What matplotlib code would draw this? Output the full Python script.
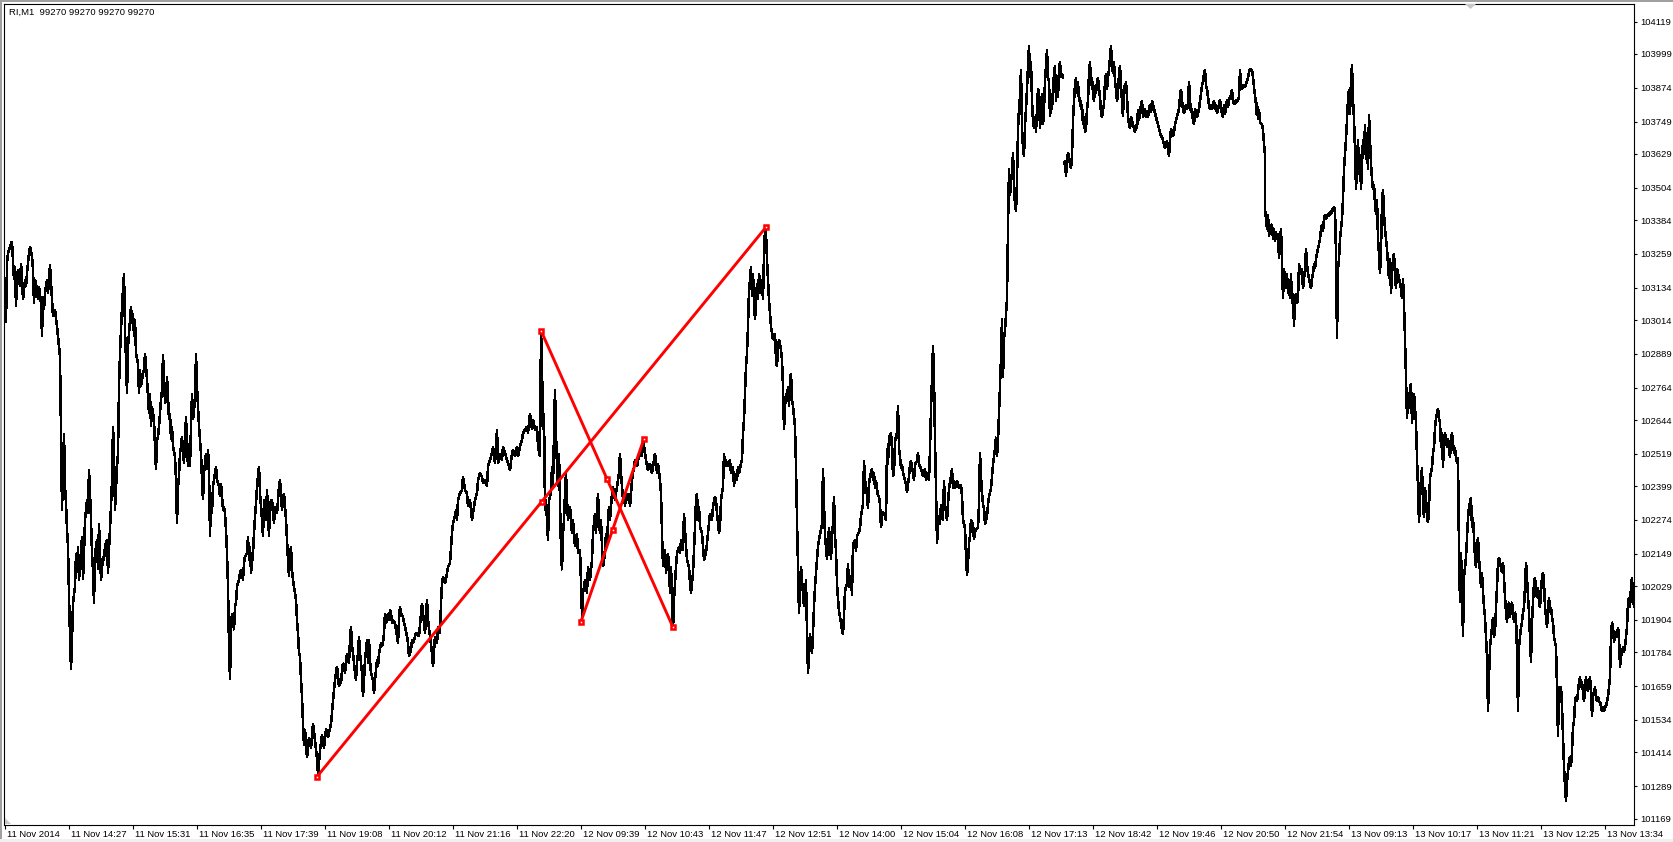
import numpy as np
import matplotlib
matplotlib.use("Agg")
import matplotlib.pyplot as plt
from matplotlib.patches import Polygon, Rectangle
import matplotlib.transforms as mtransforms

plt.rcParams['font.family'] = ['Liberation Sans', 'DejaVu Sans']

# ---------------- data: RI M1, (bar index, price) ----------------
seg_a = [(0,103015),(1,103005),(2,103225),(3,103262),(5,103286),(7,103305),(8,103237),(9,103163),(10,103212),(11,103064),(12,103175),(13,103200),(15,103138),(16,103225),(17,103175),(18,103089),(20,103163),(21,103138),(22,103188),(24,103262),(25,103286),(27,103249),(28,103200),(29,103077),(30,103163),(32,103126),(33,103089),(34,103138),(36,103077),(37,102953),(38,103101),(39,103052),(40,103114),(42,103163),(43,103114),(45,103218),(47,103089),(48,103027),(50,103052),(52,102990),(53,102953),(54,102916),(55,102879),(56,102595),(57,102311),(58,102460),(59,102595),(60,102398),(61,102336),(62,102237),(63,102176),(64,101991),(65,101843),(66,101719),(67,101830),(68,101966),(70,102028),(71,102151),(72,102089),(73,102176),(74,102052),(76,102151),(77,102213),(78,102052),(79,102151),(80,102274),(82,102349),(83,102299),(84,102460),(85,102373),(86,102274),(87,102151),(88,102089),(89,101966),(90,102151),(92,102200),(93,102089),(94,102262),(95,102151),(96,102052),(98,102139),(99,102126),(100,102176),(102,102200),(103,102077),(104,102163),(106,102324),(107,102423),(108,102620),(109,102521),(110,102311),(112,102472),(113,102521),(114,102768),(115,102891),(116,102978),(117,103064),(119,103188),(120,102978),(121,102867),(122,102743),(123,102916),(125,103015),(126,103064),(127,103002),(128,103040),(129,102953),(130,103015),(131,102891),(133,102854),(134,102743),(135,102830),(136,102768),(138,102817),(139,102830),(140,102891),(142,102793),(143,102731),(144,102669),(145,102743),(146,102620),(147,102694),(149,102645),(150,102546),(151,102460),(152,102571),(153,102583),(154,102620),(156,102719),(157,102756),(158,102885),(159,102805),(160,102706),(161,102719),(162,102805),(163,102731),(164,102645),(165,102669),(166,102571),(167,102620),(168,102546),(170,102509),(171,102423),(172,102262),(173,102398),(174,102435),(175,102521),(176,102546),(177,102583),(178,102521),(179,102484),(181,102657),(182,102546),(183,102472),(184,102558),(185,102472),(186,102620),(187,102743),(188,102645),(190,102719),(191,102891),(192,102768),(193,102694),(194,102620),(195,102571),(196,102521),(197,102423),(198,102349),(199,102447),(201,102521),(202,102460),(203,102534),(204,102460),(205,102213),(206,102373),(207,102299),(208,102398),(210,102447),(211,102472),(212,102423),(214,102398),(215,102361),(216,102410),(218,102311),(219,102324),(220,102299),(221,102237),(222,102151),(223,102028),(224,101806),(225,101682),(226,101880),(227,101929),(228,101904),(229,101867),(230,101954),(231,101966),(232,102028),(234,102052),(235,102077),(236,102089),(238,102052),(239,102114),(240,102139),(242,102151),(243,102213),(244,102126),(245,102176),(246,102077),(248,102151),(249,102225),(250,102287),(251,102336),(252,102398),(253,102435),(254,102472),(255,102373),(256,102324),(257,102274),(258,102213),(259,102349),(261,102274),(262,102386),(263,102299),(264,102213),(265,102336),(267,102349),(268,102299),(269,102262),(270,102324),(272,102299),(273,102349),(274,102398),(275,102423),(277,102311),(278,102349),(279,102373),(280,102324),(281,102274),(282,102200),(283,102126),(284,102065),(285,102151),(286,102176),(287,102089),(288,102052),(290,102003),(291,101978),(292,101904),(293,101855),(294,101781),(295,101768),(296,101682),(297,101620),(298,101520),(299,101440),(300,101500),(302,101395),(304,101470),(306,101430),(308,101520),(310,101460),(312,101390),(313,101332),(315,101420),(317,101480),(319,101430),(321,101500),(323,101470),(326,101520),(329,101645),(330,101682),(331,101707),(332,101732),(334,101657),(335,101682),(336,101670),(337,101719),(338,101744),(339,101732),(340,101707),(342,101781),(344,101744),(345,101830),(346,101880),(347,101806),(348,101781),(350,101707),(351,101682),(352,101744),(353,101781),(354,101843),(355,101781),(357,101707),(358,101620),(359,101682),(360,101756),(362,101830),(363,101744),(364,101830),(365,101756),(366,101707),(368,101682),(369,101633),(370,101682),(371,101719),(372,101756),(373,101732),(374,101781),(376,101818),(377,101806),(378,101818),(379,101855),(380,101929),(381,101892),(382,101904),(383,101929),(384,101904),(385,101941),(386,101929),(387,101892),(388,101904),(390,101892),(391,101867),(392,101843),(393,101818),(394,101904),(395,101954),(396,101929),(398,101916),(399,101892),(400,101880),(402,101843),(403,101818),(404,101768),(406,101793),(407,101830),(408,101818),(410,101843),(411,101855),(412,101855),(414,101843)]

seg_b = [(417,101966),(418,101929),(420,101855),(422,101978),(423,101904),(425,101843),(427,101781),(428,101731),(430,101843),(432,101818),(433,101880),(435,101855),(436,101966),(437,102040),(438,102065),(440,102040),(442,102077),(443,102101),(445,102114),(447,102225),(448,102262),(449,102274),(451,102311),(452,102274),(453,102348),(455,102373),(457,102385),(458,102435),(460,102385),(462,102373),(463,102324),(465,102348),(467,102274),(468,102299),(470,102348),(472,102373),(473,102422),(475,102447),(477,102435),(478,102410),(480,102422),(482,102398),(483,102472),(485,102496),(487,102521),(488,102546),(490,102484),(492,102608),(493,102484),(495,102521),(497,102496),(498,102546),(500,102521),(502,102496),(503,102484),(505,102459),(507,102521),(508,102534),(510,102509),(512,102546),(513,102509),(515,102546),(517,102571),(518,102595),(520,102608),(522,102620),(523,102595),(525,102669),(527,102608),(528,102645),(530,102608),(532,102620),(533,102546),(535,102509),(536,102978),(537,102842),(538,102608),(539,102669),(540,102311),(541,102348),(542,102274),(543,102200),(544,102348),(546,102373),(547,102472),(548,102398),(549,102595),(550,102756),(551,102595),(552,102472),(553,102398),(554,102521),(555,102348),(556,102163),(557,102089),(558,102225),(559,102274),(560,102373),(561,102447),(562,102348),(563,102274),(565,102324),(567,102225),(568,102274),(570,102176),(572,102225),(573,102151),(575,102163),(576,102040),(577,101917),(578,102003),(579,102028),(580,102052),(582,102003),(583,102101),(585,102052),(587,102126),(588,102225),(590,102299),(591,102225),(592,102311),(593,102373),(594,102274),(595,102225),(596,102274),(597,102176),(598,102101),(600,102151),(601,102225),(602,102176),(603,102274),(604,102324),(605,102274),(606,102324),(607,102373),(608,102398),(610,102348),(611,102373),(612,102398),(614,102447),(615,102521),(616,102447),(618,102348),(619,102373),(620,102324),(621,102373),(622,102348),(624,102373),(625,102324),(626,102373),(627,102422),(628,102447),(630,102496),(632,102472),(633,102496),(635,102521),(637,102509),(638,102571),(640,102521),(642,102472),(643,102459),(645,102484),(647,102447),(648,102472),(650,102521),(652,102447),(653,102484),(655,102422),(656,102373),(657,102225),(658,102101),(659,102126),(660,102163),(661,102077),(662,102126),(663,102151),(664,102101),(665,102003),(666,102101),(667,102003),(668,101867),(669,101978),(670,102040),(671,102101),(672,102151),(674,102176),(675,102151),(676,102200),(678,102163),(679,102299),(680,102237),(681,102176),(682,102126),(684,102101),(685,102040),(686,102003),(688,102077),(689,102163),(690,102250),(691,102348),(692,102373),(693,102274),(694,102324),(695,102250),(697,102225),(698,102176),(699,102126),(701,102151),(702,102188),(703,102225),(705,102299),(707,102274),(708,102324),(710,102361),(711,102348),(712,102299),(714,102225),(715,102250),(716,102348),(718,102398),(719,102521),(720,102472),(721,102496),(722,102472),(724,102484),(725,102496),(726,102447),(728,102472),(729,102398),(730,102447),(732,102422),(733,102472),(734,102447),(736,102484),(737,102496),(738,102595),(739,102645),(740,102743),(741,102842),(742,102891),(743,102990),(744,103126),(745,103163),(746,103212),(747,103101),(748,103188),(749,103089),(750,103015),(751,103077),(752,103151),(753,103089),(754,103188),(756,103113),(757,103163),(758,103089),(759,103262),(760,103348),(761,103336),(762,103237),(763,103163),(764,103089),(765,103039),(766,102990),(767,102965),(768,102941),(770,102965),(771,102867),(772,102842),(773,102916),(774,102941),(776,102904),(777,102867),(778,102768),(779,102608),(780,102694),(781,102743),(782,102719),(783,102768),(784,102694),(785,102793),(786,102817),(787,102719),(788,102694),(790,102620),(791,102472),(792,102274),(793,102101),(794,101929),(795,102028),(796,102101),(797,102052),(798,102003),(799,101954),(800,102003),(801,102052),(802,101855),(803,101707),(804,101781),(805,101855),(806,101806),(807,101781),(808,101855),(809,101954),(810,102028),(812,102126),(813,102176),(814,102200)]

seg_c = [(817,102259),(818,102464),(819,102332),(820,102215),(822,102128),(823,102186),(824,102245),(826,102128),(827,102215),(828,102259),(829,102362),(830,102215),(831,102157),(832,102040),(833,101981),(834,101937),(836,101894),(837,101864),(838,101850),(839,101923),(840,102011),(842,102040),(843,102113),(844,102025),(846,102069),(847,101996),(848,102186),(850,102201),(851,102157),(852,102215),(854,102230),(855,102245),(856,102289),(858,102332),(859,102493),(860,102420),(861,102405),(862,102362),(863,102318),(864,102405),(865,102435),(867,102464),(868,102420),(869,102449),(870,102391),(871,102420),(873,102362),(874,102362),(875,102332),(876,102245),(877,102289),(878,102303),(880,102289),(881,102274),(882,102537),(883,102479),(884,102581),(886,102596),(887,102537),(888,102435),(889,102449),(890,102567),(892,102596),(893,102698),(894,102537),(895,102508),(896,102464),(897,102479),(898,102449),(900,102420),(901,102405),(902,102376),(904,102435),(905,102479),(906,102493),(908,102449),(909,102420),(910,102479),(912,102493),(913,102523),(914,102479),(916,102464),(917,102449),(918,102435),(920,102464),(921,102420),(922,102449),(924,102420),(925,102537),(926,102684),(928,102918),(929,102801),(930,102567),(931,102391),(932,102186),(933,102259),(934,102289),(935,102259),(936,102332),(938,102274),(939,102420),(940,102332),(942,102274),(943,102332),(944,102391),(946,102435),(947,102464),(948,102391),(949,102420),(950,102391),(952,102420),(953,102405),(954,102391),(956,102405),(957,102362),(958,102274),(960,102245),(961,102142),(962,102069),(963,102113),(964,102186),(965,102215),(966,102274),(968,102259),(969,102201),(970,102230),(972,102245),(973,102245),(974,102332),(975,102523),(976,102435),(977,102376),(978,102332),(979,102318),(980,102259),(982,102289),(983,102332),(984,102362),(986,102391),(987,102435),(988,102479),(990,102537),(991,102581),(992,102508),(993,102567),(994,102669),(995,102771),(996,102874),(997,103020),(998,102801),(999,102947),(1000,102976),(1001,103035),(1002,103093),(1003,103357),(1004,103576),(1005,103474),(1006,103532),(1007,103561),(1008,103635),(1009,103503),(1010,103444),(1011,103415),(1012,103532),(1013,103722),(1014,103795),(1015,103839),(1016,103942),(1017,103722),(1018,103649),(1019,103620),(1020,103737),(1021,103795),(1022,103869),(1023,103956),(1024,104030),(1025,103912),(1026,103971),(1027,103825),(1028,103752),(1029,103722),(1030,103766),(1031,103708),(1032,103795),(1033,103869),(1034,103854),(1035,103722),(1036,103795),(1037,103854),(1038,103737),(1039,103795),(1040,103898),(1041,103956),(1042,104015),(1043,103912),(1044,103898),(1045,103766),(1046,103825),(1047,103795),(1048,103869),(1049,103927),(1050,103956),(1051,103825),(1052,103912),(1053,103839),(1054,103942),(1055,103971),(1056,103912),(1057,103927),(1058,103912)]

seg_c2 = [(1059,103591),(1060,103605),(1061,103547),(1062,103605),(1063,103635),(1064,103620),(1065,103591),(1066,103576),(1067,103620),(1068,103752),(1069,103825),(1070,103883),(1071,103912),(1072,103854),(1073,103898),(1074,103825),(1075,103839),(1076,103795),(1077,103810),(1078,103737),(1079,103766),(1080,103708),(1081,103722),(1082,103795),(1083,103825),(1084,103927),(1085,103971),(1086,103883),(1087,103912),(1088,103854),(1089,103825),(1090,103883),(1091,103854),(1092,103898),(1093,103912),(1094,103869),(1095,103839),(1096,103781),(1097,103766),(1098,103795),(1099,103810),(1100,103898),(1101,103927),(1102,103869),(1103,103912),(1104,103942),(1105,103986),(1106,104030),(1107,103956),(1108,103927),(1109,103971),(1110,103898),(1111,103869),(1112,103825),(1113,103854),(1114,103927),(1115,103956),(1116,103883),(1117,103825),(1118,103766),(1119,103883),(1120,103869),(1121,103898),(1122,103839),(1123,103766),(1124,103737),(1125,103722),(1126,103766),(1127,103752),(1128,103737),(1129,103722),(1130,103708),(1131,103737),(1132,103722),(1133,103795),(1134,103752),(1135,103781),(1136,103810),(1137,103825),(1138,103766),(1139,103781),(1140,103795),(1141,103766),(1142,103781),(1143,103766),(1144,103795),(1145,103810),(1146,103781),(1147,103825),(1148,103810),(1149,103795),(1150,103781),(1151,103766),(1152,103752),(1153,103737),(1154,103722),(1155,103708),(1156,103693),(1157,103693),(1158,103678),(1159,103664),(1160,103649),(1161,103664),(1162,103678),(1163,103649),(1164,103620),(1165,103678),(1166,103722),(1167,103708),(1168,103693),(1169,103708),(1170,103737),(1171,103752),(1172,103766),(1173,103781),(1174,103795),(1175,103839),(1176,103869),(1177,103825),(1178,103795),(1179,103781),(1180,103795),(1181,103810),(1182,103795),(1183,103810),(1184,103898),(1185,103825),(1186,103781),(1187,103795),(1188,103752),(1189,103737),(1190,103795),(1191,103781),(1192,103766),(1193,103781),(1194,103795),(1195,103825),(1196,103854),(1197,103883),(1198,103898),(1199,103927),(1200,103942),(1201,103883),(1202,103869),(1203,103839),(1204,103810),(1205,103795),(1206,103810),(1207,103795),(1208,103810),(1209,103825),(1210,103795),(1211,103810),(1212,103781),(1213,103795),(1214,103810)]

seg_d = [(1215,103830),(1216,103793),(1218,103766),(1219,103812),(1220,103775),(1222,103830),(1223,103802),(1224,103830),(1226,103848),(1227,103867),(1228,103821),(1230,103812),(1231,103830),(1232,103821),(1234,103839),(1235,103940),(1236,103885),(1237,103867),(1238,103885),(1240,103876),(1241,103885),(1243,103913),(1244,103931),(1245,103944),(1247,103940),(1248,103913),(1249,103876),(1251,103812),(1251,103775),(1252,103821),(1253,103756),(1254,103793),(1255,103747),(1257,103738),(1258,103719),(1259,103664),(1260,103627),(1260,103425),(1261,103388),(1262,103351),(1263,103406),(1264,103323),(1265,103351),(1267,103369),(1268,103314),(1269,103351),(1270,103305),(1271,103342),(1272,103314),(1273,103333),(1274,103241),(1275,103305),(1276,103351),(1277,103241),(1278,103093),(1279,103204),(1280,103167),(1281,103130),(1282,103185),(1283,103112),(1284,103148),(1285,103093),(1286,103185),(1287,103075),(1288,103112),(1289,102992),(1290,103093),(1291,103112),(1292,103075),(1293,103093),(1294,103222),(1295,103204),(1296,103185),(1297,103204),(1298,103130),(1299,103167),(1300,103204),(1301,103277),(1302,103222),(1303,103185),(1304,103167),(1305,103148),(1306,103130),(1307,103167),(1308,103185),(1309,103222),(1310,103204),(1311,103241),(1312,103259),(1313,103277),(1314,103296),(1315,103314),(1316,103351),(1317,103369),(1318,103342),(1319,103388),(1320,103406),(1321,103388),(1322,103397),(1323,103406),(1324,103397),(1325,103416),(1326,103406),(1327,103425),(1328,103416),(1329,103434),(1330,103425),(1331,103259),(1332,102946),(1333,103204),(1334,103241),(1335,103314),(1336,103351),(1337,103388),(1338,103462),(1339,103572),(1340,103627),(1341,103683),(1342,103756),(1343,103830),(1344,103867),(1345,103775),(1346,103904),(1347,103959),(1348,103830),(1349,103756),(1350,103646),(1351,103498),(1352,103591),(1353,103683),(1354,103554),(1355,103627),(1356,103498),(1357,103591),(1358,103683),(1359,103627),(1360,103738),(1361,103609),(1362,103664),(1363,103572),(1364,103775),(1365,103683),(1366,103591),(1367,103535),(1368,103498),(1369,103517),(1370,103443),(1371,103406),(1372,103462),(1373,103314),(1374,103259),(1375,103185),(1376,103277),(1377,103443),(1378,103498),(1379,103406),(1380,103351),(1381,103314),(1382,103277),(1383,103222),(1384,103167),(1385,103241),(1386,103112),(1387,103185),(1388,103241),(1389,103259),(1390,103185),(1391,103130),(1392,103204),(1393,103185),(1394,103167),(1395,103148),(1396,103130),(1397,103093),(1398,103167),(1399,103075),(1400,102946),(1401,102798),(1402,102651),(1403,102725),(1404,102688),(1405,102762),(1406,102780),(1407,102633),(1408,102688),(1409,102743),(1410,102688),(1411,102633),(1412,102504),(1413,102393),(1414,102264),(1415,102356),(1416,102430),(1417,102467),(1418,102338),(1419,102283),(1420,102393),(1421,102356),(1422,102283),(1423,102264),(1424,102320),(1425,102430),(1426,102448),(1427,102467),(1428,102522),(1429,102541),(1430,102614),(1431,102651),(1432,102670),(1433,102688),(1434,102651),(1435,102633),(1436,102541),(1437,102596),(1438,102467),(1439,102577),(1440,102596),(1441,102577),(1442,102541),(1443,102577),(1444,102541),(1445,102504),(1446,102577),(1447,102596),(1448,102559),(1449,102522),(1450,102541),(1451,102504),(1452,102485),(1453,102504),(1454,102154),(1455,101970),(1456,102154),(1457,102025),(1458,101841),(1459,102062),(1460,102098),(1461,102135),(1462,102209),(1463,102283),(1464,102320),(1465,102338),(1466,102356),(1467,102246),(1468,102283),(1469,102209),(1470,102135),(1471,102098),(1472,102172),(1473,102209),(1474,102135),(1475,102080),(1476,102025),(1477,102080),(1478,102006),(1479,101951),(1480,101914),(1481,101841),(1482,101767),(1483,101564),(1484,101693),(1485,101804),(1486,101841),(1487,101877),(1488,101914),(1489,101841),(1490,101859),(1491,101951),(1492,102025),(1493,102117),(1494,102135),(1495,102117),(1496,102098),(1497,102080),(1498,102117),(1499,102062),(1500,101988),(1501,101933),(1502,101896),(1503,101951),(1504,101970),(1505,101914),(1506,101951),(1507,101970),(1508,101933),(1509,101896),(1510,101933),(1511,101914),(1512,101785),(1513,101564),(1514,101804),(1515,101841),(1516,101877),(1517,101896),(1518,101933),(1519,101951),(1520,102025),(1521,102117),(1522,102062),(1523,101988),(1524,101933),(1525,101841),(1526,101748),(1527,101896),(1528,101970),(1529,102043),(1530,102062),(1531,102006),(1532,101988),(1533,102025),(1534,101970),(1535,101951),(1536,102006),(1537,102062),(1538,102080),(1539,102043),(1540,101951),(1541,101914),(1542,101877),(1543,101933),(1544,101988),(1545,101933),(1546,101951),(1547,101914),(1548,101896),(1549,101841),(1551,101804),(1552,101656),(1553,101472),(1554,101656),(1555,101620),(1556,101656),(1557,101583),(1558,101472),(1559,101362),(1560,101288),(1561,101233),(1562,101306),(1563,101343),(1564,101380),(1565,101399),(1566,101362),(1567,101417),(1568,101509),(1569,101527),(1570,101601),(1571,101620),(1572,101601),(1573,101638),(1574,101675),(1575,101693),(1576,101656),(1577,101675),(1578,101638),(1579,101601),(1580,101656),(1581,101693),(1582,101656),(1583,101638),(1584,101675),(1585,101693),(1586,101638),(1587,101546),(1588,101620),(1589,101638),(1590,101656),(1591,101620),(1592,101601),(1593,101620),(1594,101601),(1595,101601),(1596,101583),(1597,101564),(1598,101583),(1599,101564),(1600,101583),(1601,101583),(1602,101601),(1603,101620),(1604,101656),(1605,101693),(1606,101841),(1607,101896),(1608,101877),(1609,101822),(1610,101841),(1611,101859),(1612,101841),(1613,101877),(1614,101841),(1615,101730),(1616,101767),(1617,101785),(1618,101804),(1619,101785),(1620,101804),(1621,101841),(1622,101877),(1623,101970),(1624,101988),(1625,101951),(1626,102025),(1627,102062),(1628,101988),(1629,101951),(1630,101970)]

# connected runs of the price line (a gap in quotes between seg_c and seg_c2)
price_runs = [seg_a + seg_b + seg_c, seg_c2 + seg_d]

# red trend lines: (bar, price) start and end
trend_lines = [((312, 101324), (761, 103358)),
               ((536, 102975), (668, 101877)),
               ((576, 101898), (639, 102575))]

x_tick_bars = [64 * i for i in range(26)]
x_tick_labels = ["11 Nov 2014", "11 Nov 14:27", "11 Nov 15:31", "11 Nov 16:35", "11 Nov 17:39",
                 "11 Nov 19:08", "11 Nov 20:12", "11 Nov 21:16", "11 Nov 22:20", "12 Nov 09:39",
                 "12 Nov 10:43", "12 Nov 11:47", "12 Nov 12:51", "12 Nov 14:00", "12 Nov 15:04",
                 "12 Nov 16:08", "12 Nov 17:13", "12 Nov 18:42", "12 Nov 19:46", "12 Nov 20:50",
                 "12 Nov 21:54", "13 Nov 09:13", "13 Nov 10:17", "13 Nov 11:21", "13 Nov 12:25",
                 "13 Nov 13:34"]
y_tick_values = [104119, 103999, 103874, 103749, 103629, 103504, 103384, 103259, 103134, 103014,
                 102889, 102764, 102644, 102519, 102399, 102274, 102149, 102029, 101904, 101784,
                 101659, 101534, 101414, 101289, 101169]
title_text = "RI,M1  99270 99270 99270 99270"

# ---------------- figure ----------------
W, H = 1673, 842
fig = plt.figure(figsize=(W / 100, H / 100), dpi=100, facecolor="white")
ax = fig.add_axes([4 / W, 1 - 825 / H, 1630 / W, 821 / H])
ax.set_facecolor("white")

for run in price_runs:
    xs = [p[0] for p in run]
    ys = [p[1] for p in run]
    ax.plot(xs, ys, color="black", lw=1.1, antialiased=False, solid_joinstyle="miter", zorder=2)

for (x0, y0), (x1, y1) in trend_lines:
    ax.plot([x0, x1], [y0, y1], color="#ff0000", lw=2.1, solid_capstyle="butt", zorder=3)
    mx, my = (x0 + x1) / 2, (y0 + y1) / 2
    ax.plot([x0, mx, x1], [y0, my, y1], ls="none", marker="s", ms=2.5, mew=1.8,
            mec="#ff0000", mfc="white", zorder=4)

ax.set_xlim(-1, 1629)
ax.set_ylim(101145, 104184)

for s in ax.spines.values():
    s.set_color("black")
    s.set_linewidth(0.8)

ax.yaxis.tick_right()
ax.set_yticks(y_tick_values)
ax.set_yticklabels([str(v) for v in y_tick_values])
ax.tick_params(axis="y", which="both", direction="out", length=2.3, width=0.8, pad=2.2,
               labelsize=6.8, colors="black", left=False, right=True)

ax.set_xticks(x_tick_bars)
ax.set_xticklabels(x_tick_labels, ha="left")
ax.tick_params(axis="x", which="both", direction="out", length=2.6, width=0.8, pad=1.2,
               labelsize=6.8, colors="black", top=False, bottom=True)
offset = mtransforms.ScaledTranslation(2 / 100, 0, fig.dpi_scale_trans)
for lab in ax.get_xticklabels():
    lab.set_transform(lab.get_transform() + offset)

fig.text(9 / W, 1 - 12.5 / H, title_text, fontsize=6.8, color="black", ha="left", va="center")

# window frame details
fig.patches.append(Rectangle((0, 1 - 2 / H), 1, 2 / H, transform=fig.transFigure,
                             facecolor="#a0a0a0", edgecolor="none", zorder=0))
fig.patches.append(Rectangle((0, 0), 2 / W, 1, transform=fig.transFigure,
                             facecolor="#a0a0a0", edgecolor="none", zorder=0))
fig.patches.append(Rectangle((0, 0), 1, 3 / H, transform=fig.transFigure,
                             facecolor="#f0f0f0", edgecolor="none", zorder=0))
fig.patches.append(Polygon([(1465 / W, 1 - 4 / H), (1476 / W, 1 - 4 / H), (1470.5 / W, 1 - 9 / H)],
                           closed=True, transform=fig.transFigure, facecolor="#c8c8c8",
                           edgecolor="none", zorder=5))
fig.patches.append(Polygon([(5 / W, 1 - 818 / H), (5 / W, 1 - 824 / H), (11 / W, 1 - 824 / H)],
                           closed=True, transform=fig.transFigure, facecolor="#c8c8c8",
                           edgecolor="none", zorder=5))

fig.savefig("out.png", dpi=100, facecolor="white")
